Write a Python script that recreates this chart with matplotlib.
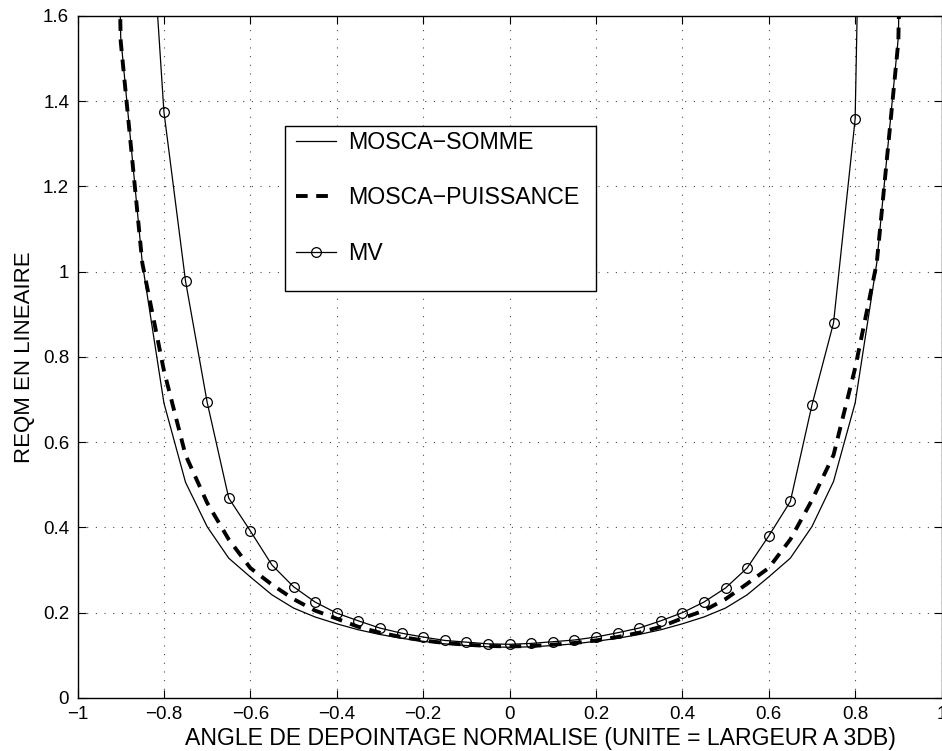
import matplotlib
matplotlib.use("Agg")
import matplotlib.pyplot as plt
from matplotlib.patches import Rectangle

plt.rcParams['font.family'] = ['Liberation Sans', 'DejaVu Sans']

# angles (normalised) for the two MOSCA curves
x_mosca = [-0.95, -0.9, -0.85, -0.8, -0.75, -0.7, -0.65, -0.6, -0.55, -0.5, -0.45, -0.4,
           -0.35, -0.3, -0.25, -0.2, -0.15, -0.1, -0.05, 0.0, 0.05, 0.1, 0.15, 0.2,
           0.25, 0.3, 0.35, 0.4, 0.45, 0.5, 0.55, 0.6, 0.65, 0.7, 0.75, 0.8, 0.85, 0.9, 0.95]

somme = [4.0, 1.55, 1.02, 0.692, 0.506, 0.402, 0.328, 0.284, 0.242, 0.211, 0.19, 0.174,
         0.16, 0.149, 0.14, 0.133, 0.127, 0.123, 0.120, 0.119, 0.120, 0.123, 0.127, 0.133,
         0.14, 0.149, 0.16, 0.174, 0.19, 0.211, 0.242, 0.284, 0.328, 0.402, 0.508, 0.692, 1.02, 1.55, 4.0]

puissance = [4.0, 1.54, 1.02, 0.768, 0.57, 0.458, 0.372, 0.305, 0.266, 0.232, 0.205, 0.186,
             0.167, 0.153, 0.143, 0.135, 0.129, 0.125, 0.122, 0.121, 0.122, 0.125, 0.129, 0.135,
             0.143, 0.153, 0.167, 0.187, 0.205, 0.232, 0.268, 0.305, 0.372, 0.464, 0.57, 0.774, 1.02, 1.54, 4.0]

# MV
x_mv = [-0.85, -0.8, -0.75, -0.7, -0.65, -0.6, -0.55, -0.5, -0.45, -0.4, -0.35, -0.3,
        -0.25, -0.2, -0.15, -0.1, -0.05, 0.0, 0.05, 0.1, 0.15, 0.2, 0.25, 0.3,
        0.35, 0.4, 0.45, 0.5, 0.55, 0.6, 0.65, 0.7, 0.75, 0.8, 0.85]
mv = [2.15, 1.375, 0.978, 0.694, 0.469, 0.392, 0.312, 0.261, 0.225, 0.199, 0.181, 0.164,
      0.152, 0.143, 0.135, 0.131, 0.127, 0.126, 0.128, 0.132, 0.136, 0.143, 0.153, 0.164,
      0.181, 0.2, 0.225, 0.258, 0.305, 0.38, 0.461, 0.687, 0.88, 1.358, 4.0]

xticks = [-1, -0.8, -0.6, -0.4, -0.2, 0, 0.2, 0.4, 0.6, 0.8, 1]
xtick_labels = ['\u22121', '\u22120.8', '\u22120.6', '\u22120.4', '\u22120.2', '0',
                '0.2', '0.4', '0.6', '0.8', '1']
yticks = [0, 0.2, 0.4, 0.6, 0.8, 1, 1.2, 1.4, 1.6]
ytick_labels = ['0', '0.2', '0.4', '0.6', '0.8', '1', '1.2', '1.4', '1.6']

fig = plt.figure(figsize=(9.42, 7.51), dpi=100)
ax = fig.add_axes([0.0823, 0.0706, 0.9172, 0.9081])

ax.plot(x_mosca, somme, color='black', lw=0.9, label='MOSCA\u2212SOMME')
ax.plot(x_mosca, puissance, color='black', lw=2.8, linestyle=(0, (3, 2.2)),
        label='MOSCA\u2212PUISSANCE')
ax.plot(x_mv, mv, color='black', lw=0.9, marker='o', markersize=7,
        markerfacecolor='none', markeredgewidth=0.9, label='MV')

ax.set_xlim(-1, 1)
ax.set_ylim(0, 1.6)
ax.set_xticks(xticks)
ax.set_xticklabels(xtick_labels)
ax.set_yticks(yticks)
ax.set_yticklabels(ytick_labels)
ax.tick_params(direction='in', length=6, width=0.8, labelsize=13.5,
               top=True, right=True, pad=6)
ax.grid(True, color='0.3', linestyle=(0, (1, 6.8)), lw=0.8)
for s in ax.spines.values():
    s.set_linewidth(1.0)

ax.set_xlabel('ANGLE DE DEPOINTAGE NORMALISE (UNITE = LARGEUR A 3DB)', fontsize=16.6,
              va='center')
ax.xaxis.set_label_coords(0.5356, -0.0587)
ax.set_ylabel('REQM EN LINEAIRE', fontsize=16, labelpad=6)

# legend box (MATLAB style, more room under the last entry)
box = Rectangle((0.240, 0.5968), 0.3598, 0.2419, transform=ax.transAxes,
                facecolor='white', edgecolor='black', lw=1.0, zorder=4.5)
ax.add_patch(box)
leg = ax.legend(loc='upper left', bbox_to_anchor=(0.253, 0.8314), borderaxespad=0,
                fontsize=16.7, frameon=False, handlelength=1.72, labelspacing=1.4,
                borderpad=0, handletextpad=0.52)
leg.set_zorder(5)

plt.savefig('out.png', dpi=100)
